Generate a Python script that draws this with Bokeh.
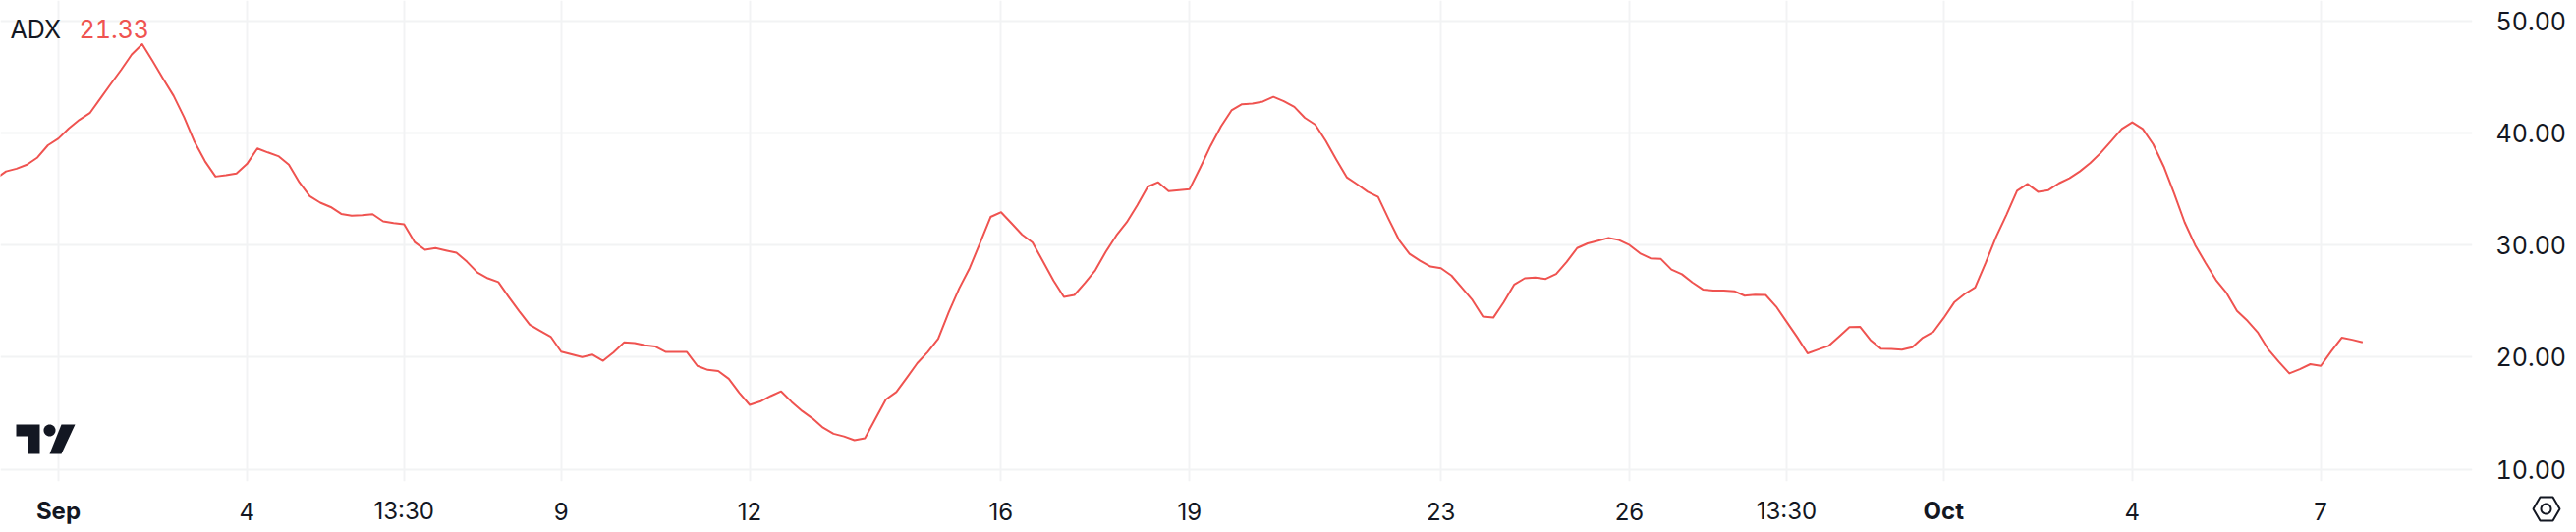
import math
from bokeh.plotting import figure
from bokeh.layouts import column
from bokeh.embed import file_html
from bokeh.resources import INLINE
from bokeh.core.properties import value
from bokeh.models import (FixedTicker, LinearAxis, Range1d, Label, PolyAnnotation, Grid)

series_name = "ADX"
last_value = "21.33"
bars = list(range(-6, 221))
adx = [
35.90,36.57,36.81,37.17,37.81,38.90,39.50,40.41,41.17,41.77,43.07,44.37,45.64,47.00,47.91,46.40,44.83,43.31,41.41,39.20,
37.47,36.11,36.23,36.38,37.23,38.62,38.26,37.93,37.17,35.60,34.36,33.78,33.39,32.78,32.63,32.66,32.75,32.12,31.97,31.85,
30.27,29.58,29.73,29.52,29.31,28.52,27.55,27.04,26.70,25.37,24.10,22.89,22.35,21.83,20.50,20.26,20.02,20.23,19.68,20.44,
21.32,21.26,21.07,20.95,20.47,20.47,20.47,19.23,18.87,18.77,18.08,16.84,15.75,16.05,16.54,16.96,16.02,15.21,14.54,13.72,
13.18,12.94,12.60,12.78,14.51,16.23,16.90,18.17,19.47,20.47,21.65,24.01,26.13,27.94,30.21,32.51,32.93,31.94,30.94,30.24,
28.55,26.85,25.37,25.55,26.61,27.76,29.40,30.85,32.03,33.54,35.20,35.60,34.81,34.90,34.99,36.87,38.84,40.59,42.01,42.56,
42.62,42.80,43.22,42.83,42.32,41.35,40.74,39.29,37.63,36.05,35.42,34.75,34.30,32.33,30.45,29.21,28.61,28.09,27.94,27.28,
26.19,25.10,23.62,23.53,24.92,26.49,27.04,27.10,26.98,27.43,28.49,29.73,30.15,30.39,30.64,30.45,30.00,29.27,28.82,28.76,
27.82,27.40,26.67,26.04,25.95,25.95,25.89,25.49,25.58,25.55,24.52,23.16,21.80,20.35,20.68,21.01,21.83,22.68,22.71,21.53,
20.77,20.74,20.68,20.89,21.74,22.25,23.50,24.89,25.64,26.22,28.40,30.73,32.72,34.84,35.45,34.75,34.90,35.51,35.96,36.57,
37.32,38.23,39.29,40.35,40.95,40.35,38.99,37.02,34.60,32.03,30.00,28.40,26.88,25.73,24.13,23.25,22.19,20.68,19.59,18.56,
18.93,19.38,19.23,20.53,21.74,21.56,21.33,
]
x_ticks = [0, 18, 33, 48, 66, 90, 108, 132, 150, 165, 180, 198, 216]
x_labels = ["Sep", "4", "13:30", "9", "12", "16", "19", "23", "26", "13:30", "Oct", "4", "7"]
bold_labels = ["Sep", "Oct"]
y_ticks = [10, 20, 30, 40, 50]

LINE = "#ef5350"
INK = "#131722"
GRID = "#f2f3f4"
FONT = "Inter"
SIZE = "24px"
BIG = "25px"
FRAME_H = 490
STRIP_H = 52
TNUM = {"font-variant-numeric": "tabular-nums", "font-feature-settings": "'tnum' 1"}

p = figure(width=2622, height=542, output_backend="svg", toolbar_location=None,
           x_range=Range1d(-5.53, 230.47), y_range=Range1d(8.923, 51.81),
           min_border_left=0, min_border_right=106, min_border_top=0, min_border_bottom=STRIP_H,
           x_axis_type=None, y_axis_type=None, outline_line_color=None,
           background_fill_color="white", border_fill_color="white", styles=TNUM)

yaxis = LinearAxis(ticker=FixedTicker(ticks=y_ticks),
                   major_label_overrides={t: f"{t:.2f}" for t in y_ticks},
                   axis_line_color=None, major_tick_line_color=None, minor_tick_line_color=None,
                   major_label_text_font=FONT, major_label_text_font_size=BIG,
                   major_label_text_color=INK, major_label_standoff=18)
p.add_layout(yaxis, "right")

p.add_layout(Grid(dimension=0, ticker=FixedTicker(ticks=x_ticks), grid_line_color=GRID, grid_line_width=2))
p.add_layout(Grid(dimension=1, ticker=FixedTicker(ticks=y_ticks), grid_line_color=GRID, grid_line_width=2))

p.line(bars, adx, line_color=LINE, line_width=2, line_join="round")

p.add_layout(Label(x=10, y=FRAME_H - 29, x_units="screen", y_units="screen", text=series_name, text_font=FONT,
                   text_font_size=BIG, text_color=INK, text_baseline="middle"))
p.add_layout(Label(x=80, y=FRAME_H - 29, x_units="screen", y_units="screen", text=last_value, text_font=FONT,
                   text_font_size=BIG, text_color=LINE, text_baseline="middle"))

def ring(cx, cy, r, n=32):
    return [(cx + r * math.cos(2 * math.pi * k / n), cy + r * math.sin(2 * math.pi * k / n)) for k in range(n)]

def poly(fig, h, pts, fill=INK, line=None, w=0):
    fig.add_layout(PolyAnnotation(xs=[a for a, _ in pts], ys=[h - b for _, b in pts],
                                  xs_units="screen", ys_units="screen",
                                  fill_color=fill, fill_alpha=1 if fill else 0,
                                  line_color=line, line_alpha=1, line_width=w, level="overlay"))

# TradingView logo
poly(p, FRAME_H, [(16, 432), (40, 432), (40, 462), (28, 462), (28, 444), (16, 444)])
poly(p, FRAME_H, ring(50, 438, 6))
poly(p, FRAME_H, [(62, 432), (76, 432), (62, 462), (50, 462)])

# Transparent strip along the time axis: time labels and the settings icon
strip = figure(frame_width=2622, frame_height=STRIP_H, output_backend="svg", toolbar_location=None,
               x_range=Range1d(-5.53, 240.43), y_range=Range1d(0, STRIP_H),
               min_border=0, x_axis_type=None, y_axis_type=None, outline_line_color=None,
               background_fill_alpha=0, border_fill_alpha=0, margin=(-STRIP_H, 0, 0, 0))
for style, keep in (("bold", True), ("normal", False)):
    tx = [t for t, l in zip(x_ticks, x_labels) if (l in bold_labels) == keep]
    tl = [l for l in x_labels if (l in bold_labels) == keep]
    strip.text(x=tx, y=[STRIP_H - 30] * len(tx), text=tl, text_font=value(FONT), text_font_size=value(SIZE),
               text_font_style=style, text_color=INK, text_align="center", text_baseline="middle")
poly(strip, STRIP_H, [(2578, 28), (2585, 16), (2598, 16), (2605, 28), (2598, 40), (2585, 40)], fill=None, line=INK, w=2)
poly(strip, STRIP_H, ring(2591, 28, 5), fill=None, line=INK, w=2)

open("out.html", "w").write(file_html(column(column(p), strip, spacing=0), INLINE))
